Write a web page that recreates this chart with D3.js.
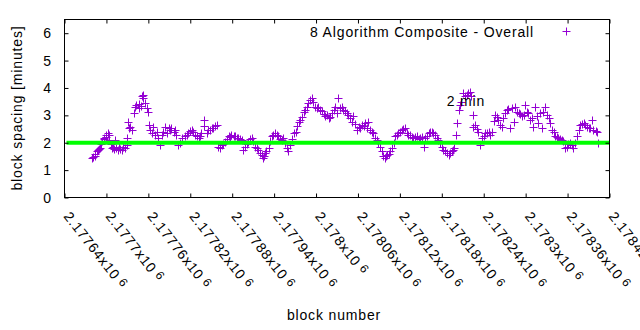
<!DOCTYPE html>
<html>
<head>
<meta charset="utf-8">
<script src="https://cdn.jsdelivr.net/npm/d3@7"></script>
<style>
  html, body { margin: 0; padding: 0; background: #fff; }
  svg { display: block; font-family: "Liberation Sans", Arial, sans-serif; }
  svg text { letter-spacing: 0.85px; }
</style>
</head>
<body>
<svg id="chart" width="640" height="330"></svg>
<script>
// ---- data ----
const blocks = [
  2177680,2177681,2177683,2177684,2177686,2177688,2177689,2177691,2177692,2177694,
  2177696,2177697,2177699,2177700,2177702,2177703,2177704,2177706,2177708,2177709,
  2177711,2177712,2177714,2177716,2177718,2177720,2177722,2177724,2177727,2177729,
  2177730,2177731,2177733,2177734,2177736,2177739,2177741,2177743,2177746,2177747,
  2177749,2177751,2177752,2177753,2177755,2177758,2177760,2177761,2177763,2177765,
  2177767,2177770,2177772,2177774,2177777,2177779,2177781,2177784,2177786,2177789,
  2177791,2177793,2177796,2177798,2177800,2177803,2177805,2177808,2177812,2177815,
  2177817,2177820,2177822,2177824,2177827,2177829,2177832,2177834,2177836,2177839,
  2177840,2177844,2177846,2177848,2177851,2177853,2177855,2177858,2177860,2177863,
  2177865,2177867,2177870,2177872,2177875,2177877,2177879,2177882,2177884,2177887,
  2177889,2177891,2177894,2177896,2177898,2177901,2177903,2177906,2177908,2177910,
  2177913,2177915,2177917,2177920,2177922,2177924,2177926,2177927,2177929,2177932,
  2177934,2177937,2177939,2177941,2177944,2177946,2177949,2177951,2177953,2177956,
  2177958,2177960,2177963,2177965,2177968,2177971,2177973,2177975,2177977,2177980,
  2177983,2177984,2177987,2177989,2177991,2177994,2177996,2177999,2178001,2178003,
  2178006,2178008,2178011,2178013,2178015,2178018,2178020,2178023,2178025,2178027,
  2178030,2178032,2178034,2178037,2178039,2178042,2178044,2178046,2178049,2178051,
  2178053,2178056,2178058,2178061,2178063,2178066,2178068,2178070,2178073,2178075,
  2178077,2178080,2178082,2178085,2178087,2178089,2178092,2178094,2178096,2178098,
  2178100,2178101,2178104,2178106,2178108,2178111,2178113,2178116,2178118,2178120,
  2178123,2178125,2178127,2178130,2178132,2178135,2178137,2178139,2178142,2178144,
  2178147,2178149,2178151,2178154,2178156,2178159,2178161,2178163,2178166,2178168,
  2178170,2178173,2178175,2178178,2178180,2178182,2178185,2178187,2178190,2178192,
  2178194,2178196,2178198,2178200,2178202,2178204,2178206,2178208,2178211,2178213,
  2178216,2178218,2178221,2178222,2178224,2178225,2178228,2178230,2178232,2178235,
  2178237,2178240,2178242,2178244,2178247,2178249,2178252,2178254,2178256,2178259,
  2178261,2178263,2178266,2178268,2178271,2178273,2178275,2178278,2178280,2178283,
  2178285,2178287,2178290,2178292,2178295,2178297,2178299,2178302,2178304,2178306,
  2178309,2178311,2178314,2178316,2178318,2178321,2178323,2178325,2178328,2178330,
  2178333,2178335,2178338,2178340,2178342,2178345,2178347,2178349,2178352,2178354,
  2178357,2178359,2178361,2178364,2178366,2178368,2178371,2178373,2178376,2178378,
  2178380,2178383,2178385,2178388,2178390,2178392,2178395,2178397,2178400,2178402,
  2178403
];
const spacing = [
  1.44,1.47,1.52,1.60,1.68,1.72,1.78,1.80,1.95,2.08,
  2.17,2.14,2.22,2.29,2.37,2.30,2.10,1.95,1.80,1.85,
  1.76,2.10,1.82,1.74,1.86,1.78,1.74,1.84,1.80,2.17,
  1.90,2.77,2.52,2.59,2.47,3.10,3.32,3.38,3.26,3.40,
  3.35,3.69,3.75,3.62,3.45,3.26,3.14,2.65,2.45,2.35,
  2.59,2.29,2.40,2.17,1.92,2.30,2.41,2.59,2.35,2.53,
  2.45,2.53,2.40,2.47,2.30,1.92,2.00,2.17,2.23,2.30,
  2.35,2.42,2.47,2.41,2.30,2.23,2.17,2.25,2.35,2.84,
  2.62,2.35,2.45,2.47,2.55,2.53,2.60,2.65,1.86,1.80,
  1.90,1.95,2.04,2.15,2.23,2.20,2.29,2.25,2.23,2.18,
  2.17,2.14,2.11,1.74,1.86,1.95,2.04,2.12,2.17,2.05,
  1.86,1.80,1.74,1.62,1.56,1.44,1.50,1.62,1.70,1.80,
  2.05,2.23,2.30,2.35,2.28,2.23,2.15,2.11,2.17,2.00,
  1.80,1.68,1.92,2.15,2.35,2.41,2.60,2.77,2.84,2.95,
  3.14,3.20,3.30,3.45,3.57,3.63,3.50,3.32,3.26,3.30,
  3.20,3.15,3.05,2.96,3.02,2.90,2.95,3.10,3.20,3.32,
  3.08,3.63,3.26,3.32,3.20,3.15,3.08,3.00,2.90,2.77,
  2.96,2.70,2.47,2.59,2.55,2.65,2.60,2.71,2.55,2.77,
  2.47,2.40,2.35,2.17,2.11,2.00,1.86,1.68,1.50,1.44,
  1.52,1.56,1.60,1.68,1.80,2.00,2.23,2.30,2.35,2.40,
  2.47,2.50,2.53,2.35,2.30,2.29,2.20,2.17,2.20,2.23,
  2.15,2.17,2.20,1.86,2.17,2.25,2.35,2.40,2.41,2.35,
  2.29,2.17,2.10,2.00,1.86,1.75,1.68,1.62,1.56,1.62,
  1.68,1.75,1.80,2.29,2.71,3.20,3.38,3.50,3.81,3.70,
  3.75,3.80,3.87,3.72,3.02,2.59,2.65,2.50,2.41,1.92,
  2.17,2.25,2.35,2.35,2.41,2.29,2.41,2.80,3.02,2.95,
  2.84,2.65,2.59,2.90,3.10,3.20,3.25,2.53,3.26,2.77,
  3.32,3.14,3.08,3.05,2.96,3.00,3.38,3.14,3.08,2.84,
  2.90,2.59,3.32,2.96,2.71,3.08,2.53,3.14,3.32,3.00,
  2.90,2.71,2.47,2.41,2.23,2.20,2.17,2.15,2.11,2.05,
  1.80,1.86,1.95,1.98,1.90,1.80,2.00,2.23,2.45,2.65,
  2.70,2.71,2.65,2.59,2.55,2.53,2.84,2.47,2.44,2.41,
  1.98
];
const xTickValues = [2177640,2177700,2177760,2177820,2177880,2177940,2178000,
                     2178060,2178120,2178180,2178240,2178300,2178360,2178420];
const yTickValues = [0,1,2,3,4,5,6];
const xDomain = [2177640, 2178420];
const yDomain = [0, 6.5];
const referenceLevel = 2;
const seriesName = "8 Algorithm Composite - Overall";
const annotation = { text: "2 min", block: 2178187, value: 3.51 };
const xTitle = "block number";
const yTitle = "block spacing [minutes]";

// ---- drawing ----
const svg = d3.select("#chart");
const L = 64.5, R = 609.5, T = 19.5, B = 197.5;
const x = d3.scaleLinear().domain(xDomain).range([L, R]);
const y = d3.scaleLinear().domain(yDomain).range([B, T]);
const purple = "#9400d3";
const fs = 14;

// points
const pts = blocks.map((b, i) => ({ b, v: spacing[i] }));
const plus = (cx, cy, s) => `M${cx - s},${cy}H${cx + s}M${cx},${cy - s}V${cy + s}`;
svg.append("g").selectAll("path").data(pts).enter().append("path")
  .attr("d", d => plus(Math.round(x(d.b)) + 0.5, Math.round(y(d.v)) + 0.5, 4))
  .attr("stroke", purple).attr("stroke-width", 1).attr("fill", "none");

// reference line
svg.append("line")
  .attr("x1", x(xDomain[0]) + 2).attr("x2", x(xDomain[1]))
  .attr("y1", y(referenceLevel)).attr("y2", y(referenceLevel))
  .attr("stroke", "#00ff00").attr("stroke-width", 4);

// axes (ticks inward, mirrored)
const axB = d3.axisBottom(x).tickValues(xTickValues).tickSizeInner(-4).tickSizeOuter(0).tickFormat("");
const axT = d3.axisTop(x).tickValues(xTickValues).tickSizeInner(-4).tickSizeOuter(0).tickFormat("");
const axL = d3.axisLeft(y).tickValues(yTickValues).tickSizeInner(-4).tickSizeOuter(0).tickFormat("");
const axR = d3.axisRight(y).tickValues(yTickValues).tickSizeInner(-4).tickSizeOuter(0).tickFormat("");
[[axB, `translate(0,${B})`], [axT, `translate(0,${T})`], [axL, `translate(${L},0)`], [axR, `translate(${R},0)`]]
  .forEach(([a, t]) => {
    const g = svg.append("g").attr("transform", t).call(a);
    g.select(".domain").remove();
    g.selectAll("line").attr("stroke", "#000");
  });

// border
svg.append("rect").attr("x", L).attr("y", T).attr("width", R - L).attr("height", B - T)
  .attr("fill", "none").attr("stroke", "#000").attr("stroke-width", 1);

// y tick labels
svg.append("g").selectAll("text").data(yTickValues).enter().append("text")
  .attr("x", L - 12.5).attr("y", d => y(d)).attr("dy", "0.36em")
  .attr("text-anchor", "end").attr("font-size", fs).text(d => d);

// x tick labels (rotated)
const xl = svg.append("g").selectAll("text").data(xTickValues).enter().append("text")
  .attr("transform", d => `translate(${x(d) - 1.5},${B + 19}) rotate(52)`)
  .attr("font-size", fs);
xl.append("tspan").text(d => String(+(d / 1e6).toFixed(6)) + "x10");
xl.append("tspan").attr("dx", 4).attr("dy", -3).attr("font-size", 12).text("6");

// axis titles
svg.append("text").attr("x", 334).attr("y", 320).attr("text-anchor", "middle")
  .attr("font-size", fs).text(xTitle);
svg.append("text").attr("transform", "translate(22,108) rotate(-90)")
  .attr("text-anchor", "middle").attr("font-size", fs).text(yTitle);

// legend
svg.append("text").attr("x", 534).attr("y", 31.5).attr("dy", "0.36em")
  .attr("text-anchor", "end").attr("font-size", fs).text(seriesName);
svg.append("path").attr("d", plus(566.5, 31.5, 4)).attr("stroke", purple).attr("fill", "none");

// annotation
svg.append("text").attr("x", x(annotation.block)).attr("y", y(annotation.value)).attr("dy", "0.36em")
  .attr("font-size", fs).text(annotation.text);
</script>
</body>
</html>
